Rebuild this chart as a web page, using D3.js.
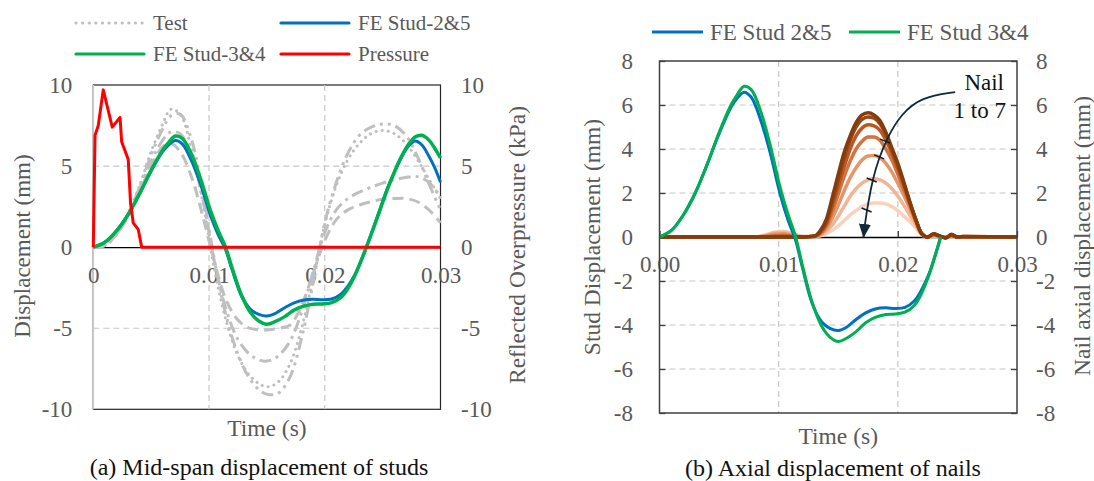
<!DOCTYPE html>
<html><head><meta charset="utf-8">
<script src="https://cdn.jsdelivr.net/npm/d3@7"></script>
<style>body{margin:0;background:#fff}svg{display:block;font-family:"Liberation Serif","Times New Roman",serif}svg text{font-family:"Liberation Serif","Times New Roman",serif}</style>
</head><body><svg id="c" width="1094" height="481"></svg>
<script>
// ---------- DATA ----------
const timeTicks = [0, 0.01, 0.02, 0.03];
const timeLabelsA = ["0", "0.01", "0.02", "0.03"];
const timeLabelsB = ["0.00", "0.01", "0.02", "0.03"];
const dispTicksA = [-10, -5, 0, 5, 10];
const dispTicksB = [-8, -6, -4, -2, 0, 2, 4, 6, 8];

// Pressure (kPa)
const pressT = [0, 0.00015, 0.00043, 0.00086, 0.00164, 0.00231, 0.00245, 0.00302, 0.00322, 0.00345, 0.00388, 0.00418, 0.03];
const pressV = [0, 6.9, 7.5, 9.7, 7.4, 8.0, 6.5, 5.4, 2.7, 1.5, 1.1, 0, 0];

// FE stud mid-span displacement (mm)
const feT = [0, 0.001, 0.002, 0.003, 0.004, 0.005, 0.006, 0.0065, 0.0071, 0.0077, 0.0085, 0.0093, 0.0101, 0.0108, 0.0114, 0.012, 0.0128, 0.0136, 0.0143, 0.015, 0.0157, 0.0165, 0.0173, 0.0181, 0.019, 0.0198, 0.0206, 0.0214, 0.022, 0.0226, 0.0231, 0.0236, 0.0242, 0.0248, 0.0254, 0.026, 0.0266, 0.0272, 0.0278, 0.0284, 0.029, 0.0295, 0.030];
const feStud25 = [0, 0.3, 1.0, 2.0, 3.3, 4.7, 5.9, 6.3, 6.58, 6.35, 5.3, 3.8, 2.0, 0.75, -0.1, -1.4, -3.0, -3.85, -4.15, -4.25, -4.1, -3.75, -3.45, -3.27, -3.22, -3.25, -3.2, -2.9, -2.4, -1.7, -0.9, 0, 1.2, 2.4, 3.6, 4.6, 5.5, 6.2, 6.55, 6.3, 5.6, 4.9, 4.0];
const feStud34 = [0, 0.3, 1.0, 2.0, 3.3, 4.75, 6.0, 6.45, 6.85, 6.7, 5.7, 4.15, 2.3, 1.0, 0.05, -1.3, -2.95, -4.05, -4.55, -4.75, -4.6, -4.3, -3.9, -3.65, -3.52, -3.5, -3.42, -3.1, -2.55, -1.75, -0.9, 0, 1.15, 2.35, 3.55, 4.6, 5.55, 6.3, 6.8, 6.9, 6.6, 6.1, 5.5];
const feEndB = 0.0236; // FE curves in (b) end here

// Test records (mm)
const testT = [0, 0.001, 0.002, 0.003, 0.004, 0.005, 0.006, 0.0067, 0.0075, 0.0085, 0.0095, 0.0105, 0.0115, 0.0125, 0.0135, 0.0145, 0.0152, 0.016, 0.017, 0.018, 0.019, 0.020, 0.021, 0.022, 0.023, 0.024, 0.025, 0.026, 0.027, 0.028, 0.029, 0.030];
const testDotted = [0, 0.1, 0.9, 2.1, 3.8, 5.9, 7.6, 8.5, 8.2, 6.0, 2.6, -1.5, -4.6, -6.7, -7.9, -8.5, -8.6, -8.3, -7.2, -5.0, -1.9, 1.4, 3.8, 5.4, 6.4, 7.0, 7.2, 7.0, 6.4, 5.4, 4.2, 3.0];
const testDashDotDot = [0, 0.1, 0.8, 2.0, 3.7, 5.7, 7.3, 8.1, 8.2, 6.6, 3.2, -0.9, -4.3, -6.6, -8.1, -8.9, -9.1, -9.0, -8.0, -5.6, -2.2, 1.5, 4.0, 5.8, 6.9, 7.4, 7.6, 7.5, 6.9, 5.6, 3.9, 2.3];
const testDashDot = [0, 0.1, 0.8, 2.0, 3.6, 5.3, 6.6, 7.1, 7.0, 5.7, 2.8, -1.0, -3.9, -5.7, -6.6, -7.0, -7.0, -6.7, -5.8, -4.0, -1.5, 0.9, 2.3, 3.0, 3.4, 3.7, 3.95, 4.15, 4.3, 4.35, 4.0, 3.1];
const testLongDash = [0, 0.1, 0.8, 1.9, 3.4, 5.0, 6.2, 6.4, 5.9, 4.3, 1.8, -1.0, -3.3, -4.5, -5.0, -5.1, -5.1, -5.0, -4.8, -3.6, -1.6, 0.4, 1.7, 2.3, 2.6, 2.8, 2.95, 3.0, 3.0, 2.8, 2.3, 1.5];

// Nail axial displacement (mm), nails 1..7
const nailT = [0, 0.008, 0.0088, 0.0096, 0.0104, 0.0112, 0.012, 0.013, 0.0135, 0.014, 0.0145, 0.015, 0.0155, 0.016, 0.0165, 0.017, 0.0175, 0.018, 0.0185, 0.019, 0.0195, 0.020, 0.0205, 0.021, 0.0215, 0.022, 0.0225, 0.023, 0.0235, 0.024, 0.0245, 0.025, 0.0255, 0.030];
const nail1 = [0, 0, 0, 0, 0, 0, 0, 0.05, 0.3, 0.8, 1.8, 2.85, 3.85, 4.6, 5.2, 5.55, 5.65, 5.55, 5.3, 4.75, 4.05, 3.35, 2.5, 1.6, 0.8, 0.15, 0, 0.15, 0.05, -0.05, 0.12, 0, 0.02, 0];
const nail2 = [0, 0, 0, 0, 0, 0, 0, 0.04, 0.25, 0.7, 1.6, 2.6, 3.6, 4.4, 5.0, 5.35, 5.45, 5.4, 5.15, 4.65, 3.95, 3.25, 2.45, 1.6, 0.8, 0.15, 0, 0.14, 0.05, -0.04, 0.1, 0, 0.02, 0];
const nail3 = [0, 0, 0, 0.02, 0.03, 0.01, 0, 0.03, 0.2, 0.6, 1.4, 2.3, 3.2, 4.0, 4.6, 4.95, 5.1, 5.05, 4.85, 4.4, 3.8, 3.1, 2.35, 1.55, 0.8, 0.15, 0, 0.12, 0.04, -0.03, 0.08, 0, 0.01, 0];
const nail4 = [0, 0, 0.02, 0.06, 0.08, 0.04, 0, 0.02, 0.15, 0.5, 1.15, 1.95, 2.75, 3.45, 4.0, 4.35, 4.55, 4.55, 4.4, 4.0, 3.5, 2.85, 2.15, 1.45, 0.75, 0.15, 0, 0.1, 0.03, -0.02, 0.06, 0, 0.01, 0];
const nail5 = [0, 0, 0.04, 0.12, 0.15, 0.08, 0.01, 0.02, 0.12, 0.38, 0.85, 1.45, 2.1, 2.7, 3.15, 3.5, 3.68, 3.7, 3.6, 3.35, 2.95, 2.45, 1.9, 1.3, 0.7, 0.15, 0, 0.08, 0.02, -0.02, 0.05, 0, 0, 0];
const nail6 = [0, 0, 0.06, 0.18, 0.22, 0.12, 0.02, 0.02, 0.08, 0.25, 0.55, 0.95, 1.4, 1.85, 2.2, 2.45, 2.6, 2.65, 2.6, 2.45, 2.2, 1.85, 1.45, 1.0, 0.55, 0.12, 0, 0.06, 0.02, 0, 0.03, 0, 0, 0];
const nail7 = [0, 0, 0.08, 0.22, 0.26, 0.15, 0.03, 0.02, 0.05, 0.15, 0.3, 0.5, 0.75, 1.0, 1.2, 1.38, 1.5, 1.55, 1.55, 1.5, 1.38, 1.2, 0.95, 0.7, 0.42, 0.1, 0, 0.04, 0.01, 0, 0.02, 0, 0, 0];

// Annotation arrow in data space (time, mm)
const arrowT = [0.02481, 0.02196, 0.02024, 0.0191, 0.01839, 0.0179, 0.01751, 0.01724, 0.01712];
const arrowV = [6.59, 6.36, 5.57, 4.5, 3.55, 2.64, 1.55, 0.61, 0.0];
const crossT = [0.01893, 0.01843, 0.01781, 0.01738];
const crossV = [4.36, 3.64, 2.59, 1.23];

// ---------- STYLE ----------
const FONT = "Liberation Serif";
const C = { blue: "#0070C0", green: "#00B050", red: "#FF0000", grey: "#BFBFBF", text: "#595959", grid: "#C8C8C8" };
const nailColors = ["#843C0C", "#9B4614", "#B9581F", "#D4733F", "#E69468", "#F1B594", "#F7D2BC"];

const svg = d3.select("#c");
const zip = (t, v) => t.map((d, i) => [d, v[i]]);
const num = d => String(d); // hyphen-minus like the original

// ================= Panel (a) =================
const A = { x0: 93.3, x1: 440.5, y0: 85, y1: 409.3 };
const xA = d3.scaleLinear().domain([0, 0.03]).range([A.x0, A.x1]);
const yA = d3.scaleLinear().domain([-10, 10]).range([A.y1, A.y0]);
const yPA = d3.scaleLinear().domain([-10, 10]).range([A.y1, A.y0]);
const gA = svg.append("g");

gA.append("rect").attr("x", A.x0).attr("y", A.y0).attr("width", A.x1 - A.x0).attr("height", A.y1 - A.y0)
  .attr("fill", "#fff").attr("stroke", "#262626").attr("stroke-width", 1.2);
gA.append("g").selectAll("line").data([0.01, 0.02]).join("line")
  .attr("x1", d => xA(d)).attr("x2", d => xA(d)).attr("y1", A.y0).attr("y2", A.y1)
  .attr("stroke", C.grid).attr("stroke-width", 1.2).attr("stroke-dasharray", "6,4");
gA.append("g").selectAll("line").data([5, -5]).join("line")
  .attr("x1", A.x0).attr("x2", A.x1).attr("y1", d => yA(d)).attr("y2", d => yA(d))
  .attr("stroke", C.grid).attr("stroke-width", 1.2).attr("stroke-dasharray", "6,4");
gA.append("line").attr("x1", A.x0).attr("x2", A.x0).attr("y1", A.y0).attr("y2", A.y1)
  .attr("stroke", "#C8C8C8").attr("stroke-width", 1.5);

// x axis on zero line
const axXA = gA.append("g").attr("transform", `translate(0,${yA(0)})`)
  .call(d3.axisBottom(xA).tickValues(timeTicks).tickFormat((d, i) => timeLabelsA[i]).tickSize(0).tickSizeOuter(0));
axXA.select(".domain").attr("stroke", "#000").attr("stroke-width", 1.3);
axXA.selectAll("text").attr("y", 28).attr("dy", "0.35em");

const axYA = gA.append("g").attr("transform", `translate(${A.x0},0)`)
  .call(d3.axisLeft(yA).tickValues(dispTicksA).tickFormat(num).tickSize(0).tickPadding(21));
axYA.select(".domain").remove();
const axPA = gA.append("g").attr("transform", `translate(${A.x1},0)`)
  .call(d3.axisRight(yPA).tickValues(dispTicksA).tickFormat(num).tickSize(0).tickPadding(20.5));
axPA.select(".domain").remove();
[axXA, axYA, axPA].forEach(a => a.attr("font-family", FONT).attr("font-size", 23));
gA.selectAll(".tick text").attr("fill", C.text).style("font-size", "23px").style("font-family", FONT);

// curves
const lineA = d3.line().x(d => xA(d[0])).y(d => yA(d[1])).curve(d3.curveCatmullRom.alpha(0.5));
const tests = [
  { v: testLongDash, dash: "11,6" },
  { v: testDashDot, dash: "12,5,3,5" },
  { v: testDotted, dash: "0.1,6" },
  { v: testDashDotDot, dash: "12,5,3,5,3,5" }
];
tests.forEach(t => {
  gA.append("path").attr("d", lineA(zip(testT, t.v))).attr("fill", "none")
    .attr("stroke", C.grey).attr("stroke-width", 3).attr("stroke-dasharray", t.dash)
    .attr("stroke-linecap", t.dash.startsWith("0.1") ? "round" : "butt");
});
gA.append("path").attr("d", lineA(zip(feT, feStud25))).attr("fill", "none").attr("stroke", C.blue).attr("stroke-width", 3);
gA.append("path").attr("d", lineA(zip(feT, feStud34))).attr("fill", "none").attr("stroke", C.green).attr("stroke-width", 3.5);
gA.append("path").attr("d", d3.line().x(d => xA(d[0])).y(d => yPA(d[1]))(zip(pressT, pressV)))
  .attr("fill", "none").attr("stroke", C.red).attr("stroke-width", 3).attr("stroke-linejoin", "round");

// titles
const txt = (x, y, s, size, opts = {}) => {
  const t = svg.append("text").attr("x", x).attr("y", y).text(s)
    .attr("fill", opts.fill || C.text).style("font-size", size + "px").style("font-family", FONT)
    .attr("text-anchor", opts.anchor || "middle").attr("dominant-baseline", "central");
  if (opts.rot) t.attr("transform", `rotate(-90,${x},${y})`);
  return t;
};
txt(22, 246, "Displacement (mm)", 23, { rot: true });
txt(517, 245, "Reflected Overpressure (kPa)", 23.5, { rot: true });
txt((A.x0 + A.x1) / 2, 428, "Time (s)", 23.5);
txt(259, 467, "(a) Mid-span displacement of studs", 24, { fill: "#111" });

// legend (a)
const legA = [
  { x: 76, y: 23, label: "Test", color: C.grey, dash: "0.1,6.5", cap: "round" },
  { x: 281, y: 23, label: "FE Stud-2&5", color: C.blue },
  { x: 76, y: 54, label: "FE Stud-3&4", color: C.green },
  { x: 281, y: 54, label: "Pressure", color: C.red }
];
legA.forEach(l => {
  svg.append("line").attr("x1", l.x).attr("x2", l.x + 68).attr("y1", l.y).attr("y2", l.y)
    .attr("stroke", l.color).attr("stroke-width", 3.2).attr("stroke-dasharray", l.dash || null)
    .attr("stroke-linecap", l.cap || "round");
  txt(l.x + 77, l.y, l.label, 21, { anchor: "start" });
});

// ================= Panel (b) =================
const B = { x0: 659.5, x1: 1017, y0: 61, y1: 413 };
const xB = d3.scaleLinear().domain([0, 0.03]).range([B.x0, B.x1]);
const yB = d3.scaleLinear().domain([-8, 8]).range([B.y1, B.y0]);
const yNB = d3.scaleLinear().domain([-8, 8]).range([B.y1, B.y0]);
const gB = svg.append("g");

gB.append("rect").attr("x", B.x0).attr("y", B.y0).attr("width", B.x1 - B.x0).attr("height", B.y1 - B.y0)
  .attr("fill", "#fff").attr("stroke", "none");
gB.append("g").selectAll("line").data([0.01, 0.02]).join("line")
  .attr("x1", d => xB(d)).attr("x2", d => xB(d)).attr("y1", B.y0).attr("y2", B.y1)
  .attr("stroke", C.grid).attr("stroke-width", 1.2).attr("stroke-dasharray", "6,4");
gB.append("g").selectAll("line").data([-6, -4, -2, 2, 4, 6]).join("line")
  .attr("x1", B.x0).attr("x2", B.x1).attr("y1", d => yB(d)).attr("y2", d => yB(d))
  .attr("stroke", C.grid).attr("stroke-width", 1.2).attr("stroke-dasharray", "6,4");

const axXB = gB.append("g").attr("transform", `translate(0,${yB(0)})`)
  .call(d3.axisBottom(xB).tickValues(timeTicks).tickFormat((d, i) => timeLabelsB[i]).tickSizeInner(-6).tickSizeOuter(0));
axXB.select(".domain").attr("stroke", "#000").attr("stroke-width", 1.3);
axXB.selectAll(".tick line").attr("stroke", "#000").attr("stroke-width", 1.2);
axXB.selectAll("text").attr("y", 27).attr("dy", "0.35em");

const axYB = gB.append("g").attr("transform", `translate(${B.x0},0)`)
  .call(d3.axisLeft(yB).tickValues(dispTicksB).tickFormat(num).tickSizeInner(-6).tickSizeOuter(0).tickPadding(26.5));
axYB.select(".domain").remove();
const axNB = gB.append("g").attr("transform", `translate(${B.x1},0)`)
  .call(d3.axisRight(yNB).tickValues(dispTicksB).tickFormat(num).tickSizeInner(-6).tickSizeOuter(0).tickPadding(19));
axNB.select(".domain").remove();
[axXB, axYB, axNB].forEach(a => a.attr("font-family", FONT).attr("font-size", 23));
gB.selectAll(".tick line").attr("stroke", "#404040").attr("stroke-width", 1.3);
gB.selectAll(".tick text").attr("fill", C.text).style("font-size", "23px").style("font-family", FONT);

// nails (light first, dark on top)
const lineN = d3.line().x(d => xB(d[0])).y(d => yNB(d[1])).curve(d3.curveMonotoneX);
const nails = [nail1, nail2, nail3, nail4, nail5, nail6, nail7];
nails.map((v, i) => ({ v, i })).reverse().forEach(n => {
  gB.append("path").attr("d", lineN(zip(nailT, n.v))).attr("fill", "none")
    .attr("stroke", nailColors[n.i]).attr("stroke-width", 3.5).attr("stroke-linejoin", "round");
});

const lineB = d3.line().x(d => xB(d[0])).y(d => yB(d[1])).curve(d3.curveCatmullRom.alpha(0.5));
const feB = (v) => zip(feT, v).filter(d => d[0] <= feEndB + 1e-9);
gB.append("path").attr("d", lineB(feB(feStud25))).attr("fill", "none").attr("stroke", C.blue).attr("stroke-width", 3);
gB.append("path").attr("d", lineB(feB(feStud34))).attr("fill", "none").attr("stroke", C.green).attr("stroke-width", 3);

gB.append("rect").attr("x", B.x0).attr("y", B.y0).attr("width", B.x1 - B.x0).attr("height", B.y1 - B.y0)
  .attr("fill", "none").attr("stroke", "#404040").attr("stroke-width", 1.5);

// annotation arrow
const defs = svg.append("defs");
defs.append("marker").attr("id", "ah").attr("markerUnits", "userSpaceOnUse")
  .attr("markerWidth", 14).attr("markerHeight", 12).attr("refX", 13).attr("refY", 6).attr("orient", "auto")
  .append("path").attr("d", "M0,0 L14,6 L0,12 Z").attr("fill", "#0E2A3B");
gB.append("path").attr("d", d3.line().x(d => xB(d[0])).y(d => yB(d[1])).curve(d3.curveBasis)(zip(arrowT, arrowV)))
  .attr("fill", "none").attr("stroke", "#0E2A3B").attr("stroke-width", 1.8).attr("marker-end", "url(#ah)");
gB.append("g").selectAll("line").data(zip(crossT, crossV)).join("line")
  .attr("x1", d => xB(d[0]) - 5).attr("x2", d => xB(d[0]) + 5)
  .attr("y1", d => yB(d[1]) - 2).attr("y2", d => yB(d[1]) + 2)
  .attr("stroke", "#1a1a1a").attr("stroke-width", 1.5);
txt(1004, 82, "Nail", 23, { fill: "#111", anchor: "end" });
txt(1006, 110, "1 to 7", 23, { fill: "#111", anchor: "end" });

txt(592, 237, "Stud Displacement (mm)", 23.5, { rot: true });
txt(1082, 236, "Nail axial displacement (mm)", 23.5, { rot: true });
txt((B.x0 + B.x1) / 2, 436, "Time (s)", 23.5);
txt(833, 468, "(b) Axial displacement of nails", 24, { fill: "#111" });

// legend (b)
const legB = [
  { x: 652, label: "FE Stud 2&5", color: C.blue },
  { x: 849, label: "FE Stud 3&4", color: C.green }
];
legB.forEach(l => {
  svg.append("line").attr("x1", l.x).attr("x2", l.x + 51).attr("y1", 32).attr("y2", 32)
    .attr("stroke", l.color).attr("stroke-width", 3.2);
  txt(l.x + 58, 32, l.label, 23, { anchor: "start" });
});
</script></body></html>
